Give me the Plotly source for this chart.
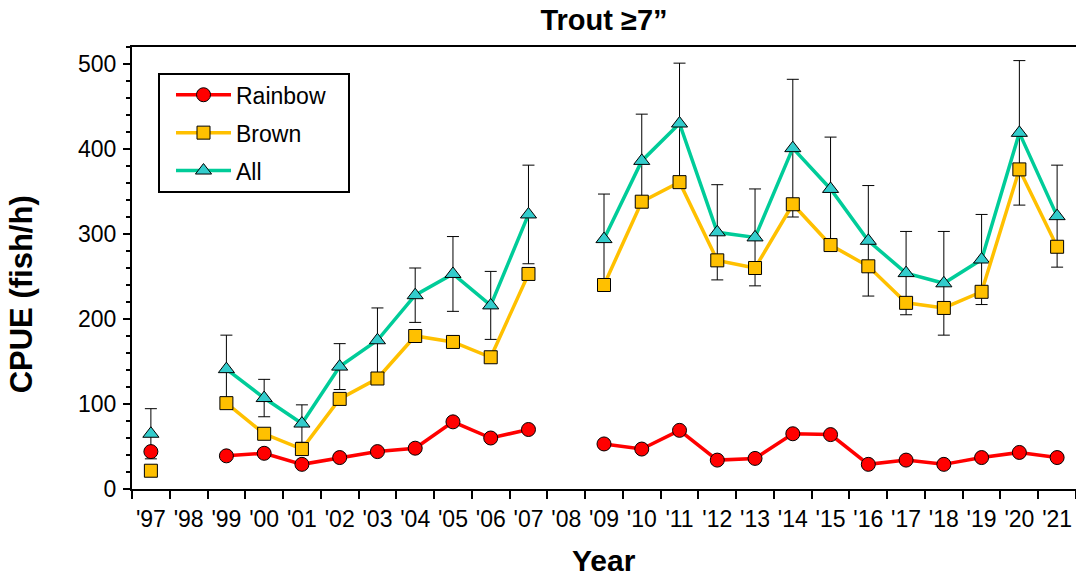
import plotly.graph_objects as go

years = ["'97", "'98", "'99", "'00", "'01", "'02", "'03", "'04", "'05", "'06", "'07", "'08",
         "'09", "'10", "'11", "'12", "'13", "'14", "'15", "'16", "'17", "'18", "'19", "'20", "'21"]

rainbow = [44, None, 39, 42, 29, 37, 44, 48, 79, 60, 70, None,
           53, 47, 69, 34, 36, 65, 64, 29, 34, 29, 37, 43, 37]
brown = [21.5, None, 101, 65, 47, 106, 130, 180, 173, 155, 253, None,
         240, 338, 361, 269, 260, 335, 287, 262, 219, 213, 232, 376, 285]
all_fish = [65, None, 141, 107, 77, 144, 175, 228, 253, 216, 323, None,
            294, 386, 430, 302, 296, 401, 353, 292, 254, 242, 270, 419, 321]
all_se = [29.5, None, 40, 22, 22, 27, 38, 32, 44, 40, 58, None,
          53, 55, 71, 56, 57, 81, 61, 65, 49, 61, 53, 85, 60]

FONT = "Liberation Sans, Arial, sans-serif"

# plot-area geometry (pixels)
L, T, W, H = 132, 47, 944, 442.3


def px_x(x):
    return (x - L) / W


def px_y(y):
    return (T + H - y) / H


fig = go.Figure()

fig.add_trace(go.Scatter(
    x=years, y=all_fish, name="All", mode="lines+markers",
    line=dict(color="#00CC99", width=3.5),
    marker=dict(symbol="triangle-up", size=14, color="#33CCCC", line=dict(color="black", width=1)),
    error_y=dict(type="data", array=all_se, color="black", thickness=1, width=6),
    connectgaps=False, legendgroup="c", legendrank=3,
))
fig.add_trace(go.Scatter(
    x=years, y=brown, name="Brown", mode="lines+markers",
    line=dict(color="#FFC000", width=3.5),
    marker=dict(symbol="square", size=13, color="#FFC000", line=dict(color="black", width=1)),
    connectgaps=False, legendgroup="b", legendrank=2,
))
fig.add_trace(go.Scatter(
    x=years, y=rainbow, name="Rainbow", mode="lines+markers",
    line=dict(color="#FF0000", width=3.5),
    marker=dict(symbol="circle", size=14, color="#FF0000", line=dict(color="black", width=1)),
    connectgaps=False, legendgroup="a", legendrank=1,
))

fig.update_layout(
    width=1076, height=580,
    margin=dict(l=L, r=0, t=T, b=91),
    paper_bgcolor="white", plot_bgcolor="white",
    font=dict(family=FONT, size=23, color="black"),
    title=dict(text="<b>Trout \u22657\u201d</b>", x=0.5, xref="paper", xanchor="center",
               y=1 - 19.5 / 580, yref="container", yanchor="middle",
               font=dict(family=FONT, size=29, color="black")),
    showlegend=True,
    legend=dict(x=px_x(171), y=px_y(73.3), xanchor="left", yanchor="top",
                borderwidth=0, bgcolor="rgba(0,0,0,0)",
                font=dict(family=FONT, size=23, color="black"),
                traceorder="grouped", tracegroupgap=5, itemwidth=55),
    xaxis=dict(type="category", categoryorder="array", categoryarray=years,
               range=[-0.5, 24.5], tickson="boundaries", ticks="outside", ticklen=8,
               tickwidth=2, tickcolor="black", showline=True, linecolor="black", linewidth=2,
               mirror=True, showgrid=False, zeroline=False, tickangle=0, automargin=False,
               ticklabelstandoff=8,
               tickfont=dict(family=FONT, size=23, color="black")),
    yaxis=dict(range=[0, 520], dtick=100, tick0=0, ticks="outside", ticklen=7, tickwidth=2,
               tickcolor="black", showline=True, linecolor="black", linewidth=2, mirror=True,
               showgrid=False, zeroline=False, automargin=False, ticklabelstandoff=2,
               minor=dict(dtick=20, ticks="outside", ticklen=4, tickwidth=2, tickcolor="black", showgrid=False),
               tickfont=dict(family=FONT, size=23, color="black")),
    shapes=[
        dict(type="rect", xref="paper", yref="paper",
             x0=px_x(159), x1=px_x(349), y0=px_y(192), y1=px_y(74),
             line=dict(color="black", width=2), fillcolor="rgba(0,0,0,0)", layer="above"),
    ],
    annotations=[
        dict(text="<b>CPUE (fish/h)</b>", textangle=-90, xref="paper", yref="paper",
             x=px_x(21.5), y=px_y(295), xanchor="center", yanchor="middle",
             showarrow=False, font=dict(family=FONT, size=31, color="black")),
        dict(text="<b>Year</b>", xref="paper", yref="paper",
             x=0.5, y=px_y(561), xanchor="center", yanchor="middle",
             showarrow=False, font=dict(family=FONT, size=30, color="black")),
    ],
)

fig.write_html("out.html", config={"displayModeBar": False},
               post_script="document.body.style.margin='0';")
